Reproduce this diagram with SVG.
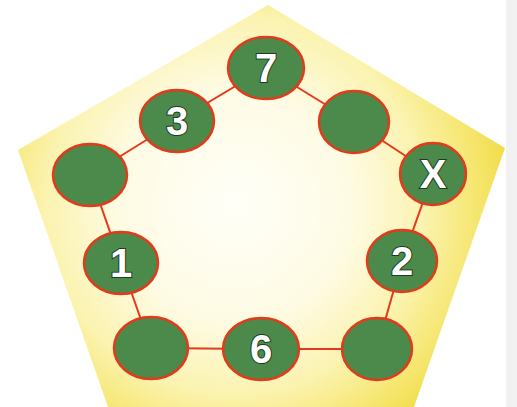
<svg xmlns="http://www.w3.org/2000/svg" width="517" height="407" viewBox="0 0 517 407">
<defs>
<radialGradient id="bg" cx="235" cy="205" r="290" gradientUnits="userSpaceOnUse">
<stop offset="0" stop-color="#fffff8"/>
<stop offset="0.4" stop-color="#fefbe4"/>
<stop offset="0.65" stop-color="#fbf3b0"/>
<stop offset="0.85" stop-color="#f5e56a"/>
<stop offset="1" stop-color="#efd83a"/>
</radialGradient>
<style>
.n{fill:#4b8a4a;stroke:#e23a1a;stroke-width:2.5}
.e{stroke:#e23a1a;stroke-width:2}
.t{font-family:"Liberation Sans",Arial,sans-serif;font-weight:bold;font-size:40px;fill:#fff;stroke:#1f3a1f;stroke-width:2;paint-order:stroke;text-anchor:middle}
</style>
</defs>
<rect width="517" height="407" fill="#ffffff"/>
<rect x="506" y="0" width="11" height="407" fill="#f2f2f2"/>
<polygon points="268,5 505,148 414,407 108,407 18,150" fill="url(#bg)"/>
<g id="connectors">
<line class="e" x1="266" y1="68" x2="177" y2="121"/>
<line class="e" x1="266" y1="68" x2="354" y2="122"/>
<line class="e" x1="354" y1="122" x2="433" y2="174"/>
<line class="e" x1="433" y1="174" x2="402" y2="261"/>
<line class="e" x1="402" y1="261" x2="377" y2="349"/>
<line class="e" x1="377" y1="349" x2="261" y2="349"/>
<line class="e" x1="261" y1="349" x2="151" y2="348"/>
<line class="e" x1="151" y1="348" x2="121" y2="263"/>
<line class="e" x1="121" y1="263" x2="90" y2="175"/>
<line class="e" x1="90" y1="175" x2="177" y2="121"/>
</g>
<g id="n7"><ellipse class="n" cx="266" cy="68" rx="38" ry="31"/><text class="t" x="266" y="82">7</text></g>
<g id="n3"><ellipse class="n" cx="177" cy="121" rx="37" ry="31"/><text class="t" x="177" y="135">3</text></g>
<g id="ntr"><ellipse class="n" cx="354" cy="122" rx="35" ry="31"/></g>
<g id="nl"><ellipse class="n" cx="90" cy="175" rx="37" ry="31"/></g>
<g id="nx"><ellipse class="n" cx="433" cy="174" rx="33" ry="31"/><text class="t" x="433" y="188">X</text></g>
<g id="n1"><ellipse class="n" cx="121" cy="263" rx="37" ry="31"/><text class="t" x="121" y="277">1</text></g>
<g id="n2"><ellipse class="n" cx="402" cy="261" rx="35" ry="31"/><text class="t" x="402" y="275">2</text></g>
<g id="nbl"><ellipse class="n" cx="151" cy="348" rx="37" ry="31"/></g>
<g id="n6"><ellipse class="n" cx="261" cy="349" rx="38" ry="31"/><text class="t" x="261" y="363">6</text></g>
<g id="nbr"><ellipse class="n" cx="377" cy="349" rx="35" ry="31"/></g>
</svg>
